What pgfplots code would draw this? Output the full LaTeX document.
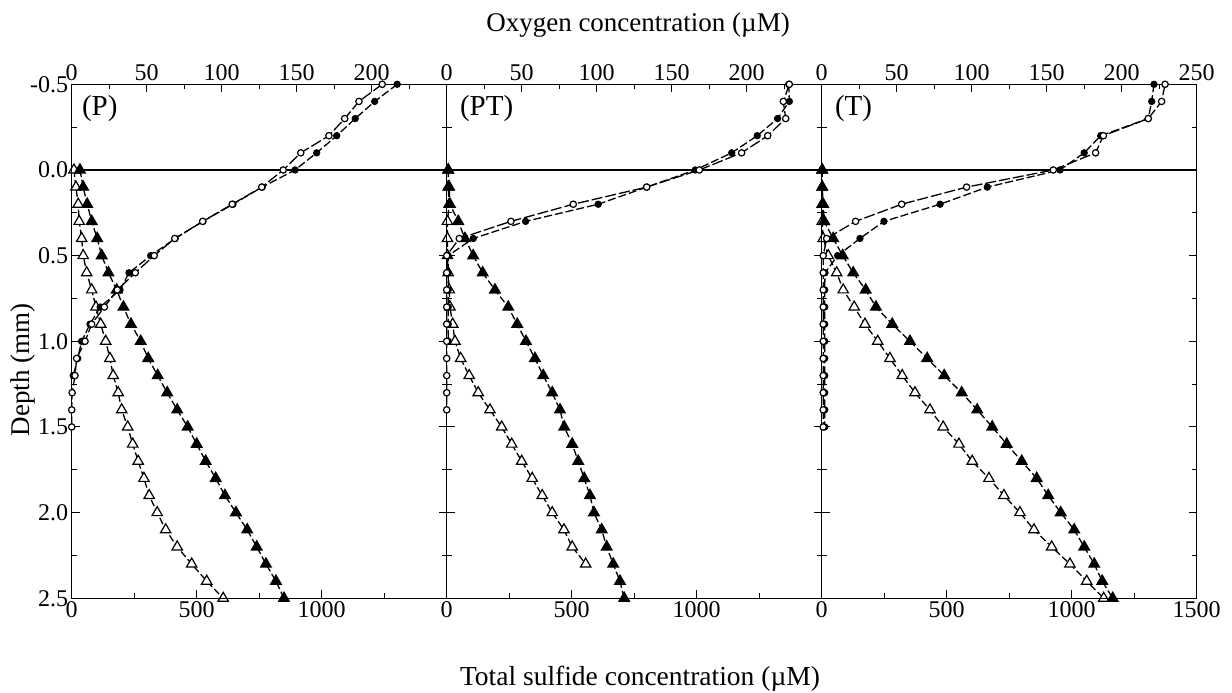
\documentclass[border=0pt]{standalone}
\usepackage{fontspec}
\setmainfont{Liberation Serif}
\usepackage{pgfplots}
\pgfplotsset{compat=1.18}
\tikzset{plab/.style={font=\fontsize{29}{29}\selectfont, anchor=west, inner sep=0pt}}
\pgfplotsset{
  base/.style={scale only axis, width=375pt, height=514pt, ymin=-0.5, ymax=2.5, y dir=reverse,
    ytick={-0.5,0,0.5,1,1.5,2,2.5}, minor ytick={-0.25,0.25,0.75,1.25,1.75,2.25},
    tick align=inside, major tick length=8pt, minor tick length=5pt,
    every tick/.style={black, line width=1pt},
    axis line style={line width=1.4pt},
    tick label style={font=\fontsize{24}{24}\selectfont},
    /pgf/number format/assume math mode=true, /pgf/number format/1000 sep={},
    anchor=south west},
  sulf/.style={base, xmin=0, xmax=1500, xtick pos=left, xticklabel pos=left,
    minor xtick={250,750,1250}, yticklabel pos=left},
  oxy/.style={base, xmin=0, xmax=250, xtick pos=right, xticklabel pos=right,
    minor xtick={25,75,125,175,225}, ytick=\empty, minor ytick=\empty},
  oc/.style={black, line width=1.3pt, dash pattern=on 11pt off 3pt, mark=*, mark size=3.2pt,
    mark options={solid, fill=white, line width=1.2pt}},
  fc/.style={black, line width=1.3pt, dash pattern=on 8pt off 3pt, mark=*, mark size=3pt,
    mark options={solid, fill=black}},
  ot/.style={black, line width=1.3pt, dash pattern=on 7pt off 3pt, mark=triangle*, mark size=6pt,
    mark options={solid, fill=white, line width=1.2pt}},
  ft/.style={black, line width=1.3pt, dash pattern=on 7pt off 3pt, mark=triangle*, mark size=6pt,
    mark options={solid, fill=black}},
}
\begin{document}
\begin{tikzpicture}
\useasboundingbox (0,0) rectangle (1232pt,693pt);
% ---------------- Panel P ----------------
\begin{axis}[sulf, at={(71.7pt,94.7pt)}, xtick={0,500,1000},
  yticklabels={-0.5,0.0,0.5,1.0,1.5,2.0,2.5}]
\addplot[black, line width=1.2pt] coordinates {(0,0) (1500,0)};
\addplot[ot] coordinates {(9,0)(17,0.1)(26,0.2)(30,0.3)(40,0.4)(46,0.5)(60,0.6)(80,0.7)(97,0.8)(116,0.9)(136,1.0)(153,1.1)(166,1.2)(186,1.3)(200,1.4)(224,1.5)(244,1.6)(266,1.7)(289,1.8)(310,1.9)(342,2.0)(376,2.1)(422,2.2)(480,2.3)(540,2.4)(606,2.5)};
\addplot[ft] coordinates {(33,0)(46,0.1)(62,0.2)(80,0.3)(102,0.4)(120,0.5)(147,0.6)(180,0.7)(207,0.8)(237,0.9)(276,1.0)(306,1.1)(344,1.2)(382,1.3)(422,1.4)(464,1.5)(500,1.6)(536,1.7)(576,1.8)(613,1.9)(657,2.0)(702,2.1)(740,2.2)(777,2.3)(817,2.4)(849,2.5)};
\node[plab] at (axis description cs:0.027,0.953) {(P)};
\end{axis}
\begin{axis}[oxy, at={(71.7pt,94.7pt)}, xtick={0,50,100,150,200}]
\addplot[fc] coordinates {(217,-0.5)(202,-0.4)(189,-0.3)(176.7,-0.2)(163.3,-0.1)(148.9,0)(127,0.1)(107.5,0.2)(87.5,0.3)(69,0.4)(52.7,0.5)(38.2,0.6)(32.2,0.7)(19,0.8)(12.2,0.9)(6.6,1.0)(4,1.1)(1,1.2)};
\addplot[oc] coordinates {(207,-0.5)(191.5,-0.4)(182,-0.3)(171.5,-0.2)(152.7,-0.1)(141,0)(126.7,0.1)(107,0.2)(87.3,0.3)(68.7,0.4)(55,0.5)(42.4,0.6)(30.4,0.7)(21.8,0.8)(13.3,0.9)(8.9,1.0)(3.3,1.1)(2.2,1.2)(0.3,1.3)(0,1.4)(0,1.5)};
\end{axis}
% ---------------- Panel PT ----------------
\begin{axis}[sulf, at={(446.7pt,94.7pt)}, xtick={0,500,1000}, yticklabels={}]
\addplot[black, line width=1.2pt] coordinates {(0,0) (1500,0)};
\addplot[ot] coordinates {(6,0)(6,0.1)(10,0.2)(3,0.3)(3,0.4)(3,0.5)(6,0.6)(10,0.7)(13,0.8)(24,0.9)(33,1.0)(56,1.1)(90,1.2)(126,1.3)(173,1.4)(220,1.5)(260,1.6)(300,1.7)(342,1.8)(382,1.9)(422,2.0)(469,2.1)(502,2.2)(556,2.3)};
\addplot[ft] coordinates {(6,0)(10,0.1)(13,0.2)(46,0.3)(73,0.4)(106,0.5)(144,0.6)(193,0.7)(246,0.8)(282,0.9)(317,1.0)(353,1.1)(386,1.2)(422,1.3)(453,1.4)(470,1.5)(502,1.6)(526,1.7)(550,1.8)(573,1.9)(589,2.0)(620,2.1)(640,2.2)(666,2.3)(693,2.4)(710,2.5)};
\node[plab] at (axis description cs:0.035,0.953) {(PT)};
\end{axis}
\begin{axis}[oxy, at={(446.7pt,94.7pt)}, xtick={0,50,100,150,200}]
\addplot[fc] coordinates {(228,-0.5)(228.4,-0.4)(220.6,-0.3)(207,-0.2)(190,-0.1)(165.7,0)(133.3,0.1)(101,0.2)(52.6,0.3)(17.7,0.4)(1,0.5)(1,0.6)(1,0.7)(1,0.8)(1,0.9)(1,1.0)};
\addplot[oc] coordinates {(228.4,-0.5)(224.4,-0.4)(226,-0.3)(214,-0.2)(196.6,-0.1)(168.4,0)(133.3,0.1)(84.4,0.2)(42.8,0.3)(8.4,0.4)(0,0.5)(0,0.6)(0,0.7)(0,0.8)(0,0.9)(0,1.0)(0,1.1)(0,1.2)(0,1.3)(0,1.4)};
\end{axis}
% ---------------- Panel T ----------------
\begin{axis}[sulf, at={(821.7pt,94.7pt)}, xtick={0,500,1000,1500}, yticklabels={}]
\addplot[black, line width=1.2pt] coordinates {(0,0) (1500,0)};
\addplot[ot] coordinates {(2,0)(2,0.1)(2,0.2)(2,0.3)(6,0.4)(26,0.5)(60,0.6)(86,0.7)(130,0.8)(173,0.9)(224,1.0)(273,1.1)(322,1.2)(373,1.3)(433,1.4)(486,1.5)(549,1.6)(602,1.7)(669,1.8)(729,1.9)(793,2.0)(849,2.1)(920,2.2)(993,2.3)(1060,2.4)(1128,2.5)};
\addplot[ft] coordinates {(2,0)(2,0.1)(6,0.2)(10,0.3)(46,0.4)(84,0.5)(126,0.6)(176,0.7)(217,0.8)(282,0.9)(353,1.0)(422,1.1)(490,1.2)(560,1.3)(622,1.4)(682,1.5)(740,1.6)(800,1.7)(860,1.8)(906,1.9)(956,2.0)(1010,2.1)(1050,2.2)(1090,2.3)(1122,2.4)(1164,2.5)};
\node[plab] at (axis description cs:0.035,0.953) {(T)};
\end{axis}
\begin{axis}[oxy, at={(821.7pt,94.7pt)}, xtick={0,50,100,150,200,250}]
\addplot[fc] coordinates {(221.5,-0.5)(220,-0.4)(217.7,-0.3)(186,-0.2)(175,-0.1)(158.9,0)(110.4,0.1)(78.9,0.2)(41.5,0.3)(25.5,0.4)(10.6,0.5)(2.2,0.6)(2,0.7)(2,0.8)(2,0.9)(2,1.0)(2,1.1)(2,1.2)(2,1.3)(2,1.4)(2,1.5)};
\addplot[oc] coordinates {(228.9,-0.5)(226.6,-0.4)(217.7,-0.3)(187.8,-0.2)(182.6,-0.1)(154.4,0)(96.6,0.1)(53.3,0.2)(22.6,0.3)(3.3,0.4)(1,0.5)(1,0.6)(1,0.7)(1,0.8)(1,0.9)(1,1.0)(1,1.1)(1,1.2)(1,1.3)(1,1.4)(1,1.5)};
\end{axis}
% ---------------- Titles ----------------
\node[font=\fontsize{27}{27}\selectfont] at (638pt,668pt) {Oxygen concentration (µM)};
\node[font=\fontsize{27.5}{27.5}\selectfont] at (640pt,14pt) {Total sulfide concentration (µM)};
\node[font=\fontsize{27}{27}\selectfont, rotate=90] at (23pt,323pt) {Depth (mm)};
\end{tikzpicture}
\end{document}
